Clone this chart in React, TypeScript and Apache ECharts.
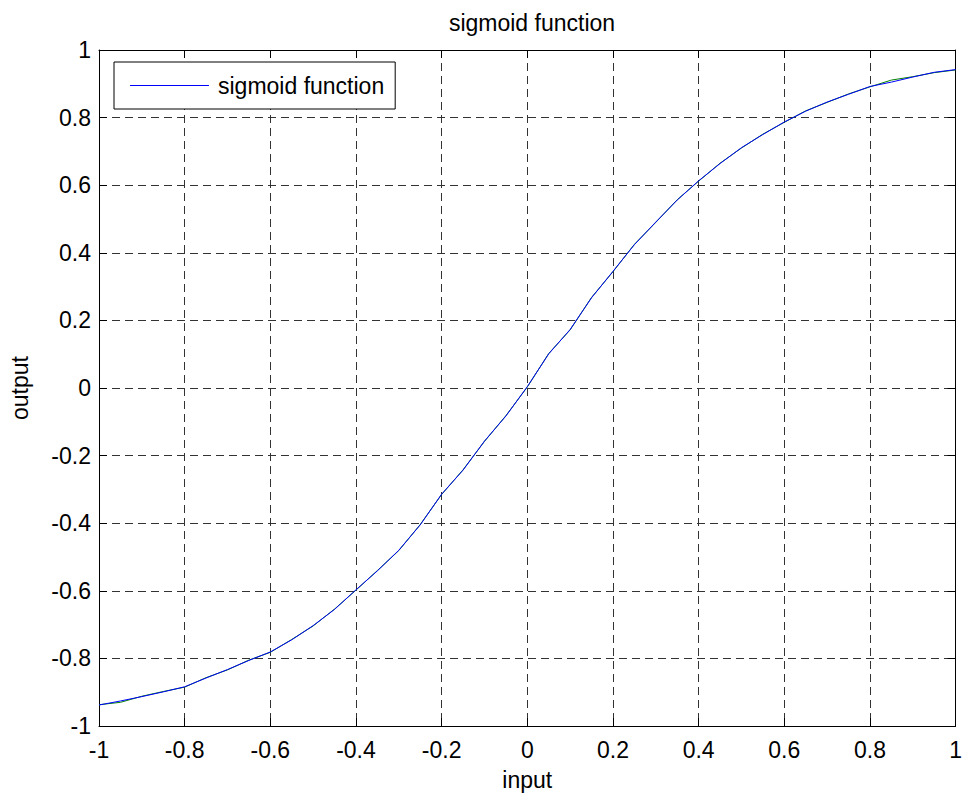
import React, { useEffect, useRef } from "react";
import * as echarts from "echarts";

const xs = [-1.0, -0.95, -0.9, -0.85, -0.8, -0.75, -0.7, -0.65, -0.6, -0.55, -0.5, -0.45, -0.4, -0.35, -0.3, -0.25, -0.2, -0.15, -0.1, -0.05, 0.0, 0.05, 0.1, 0.15, 0.2, 0.25, 0.3, 0.35, 0.4, 0.45, 0.5, 0.55, 0.6, 0.65, 0.7, 0.75, 0.8, 0.85, 0.9, 0.95, 1.0];

const sigmoidOut = [-0.938, -0.926, -0.913, -0.899, -0.884, -0.858, -0.833, -0.806, -0.781, -0.745, -0.703, -0.655, -0.597, -0.541, -0.48, -0.405, -0.314, -0.243, -0.157, -0.083, 0.004, 0.101, 0.173, 0.267, 0.345, 0.424, 0.491, 0.556, 0.613, 0.664, 0.711, 0.75, 0.787, 0.819, 0.846, 0.869, 0.892, 0.905, 0.92, 0.934, 0.942];

const targetOut = [-0.937, -0.93, -0.912, -0.898, -0.885, -0.857, -0.834, -0.805, -0.782, -0.744, -0.704, -0.654, -0.598, -0.54, -0.481, -0.404, -0.315, -0.242, -0.158, -0.082, 0.003, 0.102, 0.172, 0.268, 0.344, 0.425, 0.49, 0.557, 0.612, 0.665, 0.71, 0.751, 0.786, 0.82, 0.845, 0.87, 0.891, 0.911, 0.921, 0.933, 0.941];

const ticks = [-1, -0.8, -0.6, -0.4, -0.2, 0, 0.2, 0.4, 0.6, 0.8, 1];

const FONT = "'Liberation Sans', Arial, Helvetica, sans-serif";

const fmt = (v: number) => {
  const r = Math.round(v * 10) / 10;
  const t = ticks.find((k) => Math.abs(k - r) < 1e-9);
  return t === undefined ? "" : String(t);
};

export default function App() {
  const ref = useRef<HTMLDivElement>(null);
  useEffect(() => {
    document.body.style.margin = "0";
    const chart = echarts.init(ref.current!, undefined, { renderer: "svg" });
    const gridLine = { show: true, lineStyle: { color: "#333", type: [8, 5] as any, width: 1 } };
    const hiddenAxisCommon = {
      type: "value" as const,
      min: -1,
      max: 1,
      interval: 0.2,
      axisLine: { show: true, onZero: false, lineStyle: { color: "#000", width: 1 } },
      axisTick: { show: true, inside: true, length: 8, lineStyle: { color: "#000" } },
      axisLabel: { show: false },
      splitLine: { show: false },
    };
    chart.setOption({
      animation: false,
      backgroundColor: "#fff",
      title: {
        text: "sigmoid function",
        left: 527,
        top: 6,
        textAlign: "center",
        textStyle: { fontFamily: FONT, fontSize: 23, fontWeight: "normal", color: "#000" },
      },
      legend: {
        data: [{ name: "sigmoid function", icon: "rect" }],
        left: 114,
        top: 62,
        orient: "vertical",
        backgroundColor: "#fff",
        borderColor: "#000",
        borderWidth: 1,
        borderRadius: 0,
        padding: [12, 11, 12, 16],
        itemWidth: 79,
        itemHeight: 1,
        textStyle: { fontFamily: FONT, fontSize: 23, color: "#000", padding: [0, 0, 0, 4], lineHeight: 23 },
      },
      grid: { left: 98, right: 8, top: 50, bottom: 70, containLabel: false },
      xAxis: [
        {
          type: "value",
          min: -1,
          max: 1,
          interval: 0.2,
          name: "input",
          nameLocation: "middle",
          nameGap: 42,
          nameTextStyle: { fontFamily: FONT, fontSize: 23, color: "#000" },
          axisLine: { show: true, onZero: false, lineStyle: { color: "#000", width: 1 } },
          axisTick: { show: true, inside: true, length: 8, lineStyle: { color: "#000" } },
          axisLabel: { fontFamily: FONT, fontSize: 23, color: "#000", margin: 12, formatter: fmt },
          splitLine: gridLine,
        },
        { ...hiddenAxisCommon, position: "top" },
      ],
      yAxis: [
        {
          type: "value",
          min: -1,
          max: 1,
          interval: 0.2,
          name: "output",
          nameLocation: "middle",
          nameGap: 68,
          nameRotate: 90,
          nameTextStyle: { fontFamily: FONT, fontSize: 23, color: "#000" },
          axisLine: { show: true, onZero: false, lineStyle: { color: "#000", width: 1 } },
          axisTick: { show: true, inside: true, length: 8, lineStyle: { color: "#000" } },
          axisLabel: { fontFamily: FONT, fontSize: 23, color: "#000", margin: 8, formatter: fmt },
          splitLine: gridLine,
        },
        { ...hiddenAxisCommon, position: "right" },
      ],
      series: [
        {
          name: "target",
          type: "line",
          data: xs.map((x, i) => [x, targetOut[i]]),
          symbol: "none",
          lineStyle: { color: "#008000", width: 1 },
          itemStyle: { color: "#008000" },
          z: 2,
        },
        {
          name: "sigmoid function",
          type: "line",
          data: xs.map((x, i) => [x, sigmoidOut[i]]),
          symbol: "none",
          lineStyle: { color: "#0000ff", width: 1 },
          itemStyle: { color: "#0000ff" },
          z: 3,
        },
      ],
    });
    return () => chart.dispose();
  }, []);
  return <div ref={ref} style={{ width: 965, height: 796 }} />;
}
